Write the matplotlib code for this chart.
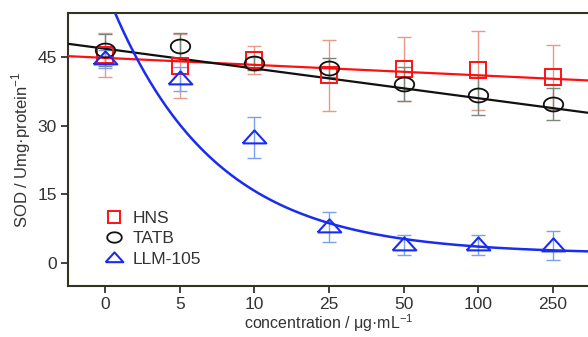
import numpy as np
import matplotlib.pyplot as plt
from matplotlib.path import Path

plt.rcParams['font.family'] = ['Liberation Sans', 'DejaVu Sans']

# categories (x axis is categorical)
conc = ['0', '5', '10', '25', '50', '100', '250']

# HNS
hns = [45.4, 43.0, 44.3, 41.0, 42.4, 42.1, 40.6]
hns_err = [4.8, 7.0, 3.0, 7.7, 7.0, 8.6, 7.0]
# TATB
tatb = [46.5, 47.3, 43.6, 42.7, 39.1, 36.7, 34.7]
tatb_err = [3.5, 3.0, 1.5, 2.0, 3.8, 4.4, 3.5]
# LLM-105
llm = [44.5, 40.2, 27.4, 7.8, 3.9, 4.0, 3.8]
llm_err = [2.0, 2.7, 4.5, 3.3, 2.2, 2.2, 3.1]

# fitted curves
hns_fit = (44.8, -0.76)      # intercept, slope (per category step)
tatb_fit = (46.8, -2.16)
llm_fit = (2.0, 57.8, 0.717)  # offset, amplitude, decay

x = np.arange(len(conc))

# ellipse marker for TATB
t = np.linspace(0, 2 * np.pi, 60)
ellipse = Path(np.column_stack([1.4 * np.cos(t), np.sin(t)]))
tri = Path([(-1.45, -0.6), (1.45, -0.6), (0, 1.0), (-1.45, -0.6)])

fig = plt.figure(figsize=(5.88, 3.37), dpi=100)
ax = fig.add_axes([68 / 588, 1 - 286 / 337, 522 / 588, 273 / 337])

xf = np.linspace(-0.5, 6.5, 300)
ax.plot(xf, hns_fit[0] + hns_fit[1] * xf, color='#ff1010', lw=1.6, zorder=3)
ax.plot(xf, tatb_fit[0] + tatb_fit[1] * xf, color='#111111', lw=1.6, zorder=3)
ax.plot(xf, llm_fit[0] + llm_fit[1] * np.exp(-llm_fit[2] * xf), color='#1a2cf0', lw=1.8, zorder=3)

ax.errorbar(x, hns, yerr=hns_err, fmt='none', ecolor='#e89a8a', elinewidth=1, capsize=5, zorder=2)
ax.errorbar(x, tatb, yerr=tatb_err, fmt='none', ecolor='#7a8a7a', elinewidth=1, capsize=5, zorder=2)
ax.errorbar(x, llm, yerr=llm_err, fmt='none', ecolor='#7aa0ee', elinewidth=1, capsize=5, zorder=2)

ax.plot(x, hns, ls='none', marker='s', ms=11, mfc='none', mec='#ff1010', mew=1.4, label='HNS', zorder=4)
ax.plot(x, tatb, ls='none', marker=ellipse, ms=14, mfc='none', mec='#111111', mew=1.3, label='TATB', zorder=4)
ax.plot(x, llm, ls='none', marker=tri, ms=17, mfc='none', mec='#1a2cf0', mew=1.5, label='LLM-105', zorder=4)

ax.set_xlim(-0.5, 6.5)
ax.set_ylim(-5, 54.6)
ax.set_xticks(x)
ax.set_xticklabels(conc)
ax.set_yticks([0, 15, 30, 45])
ax.tick_params(direction='out', length=5, width=1.3, labelsize=12.5, pad=3, color='#333333', labelcolor='#333333')

for side in ['left', 'bottom', 'top']:
    ax.spines[side].set_linewidth(1.5)
    ax.spines[side].set_color('#333322')
ax.spines['right'].set_visible(False)

ax.set_ylabel('SOD / Umg·protein$^{\\mathregular{-1}}$', fontsize=12, color='#333333', labelpad=3)
ax.set_xlabel('concentration / μg·mL$^{\\mathregular{-1}}$', fontsize=11.5, color='#333333', labelpad=0)

leg = ax.legend(loc='lower left', bbox_to_anchor=(0.05, 0.045), frameon=False, fontsize=12.5,
                handletextpad=0.3, labelspacing=0.3, handlelength=1.5, borderaxespad=0, markerscale=0.75)
for txt in leg.get_texts():
    txt.set_color('#333333')

fig.savefig('out.png', dpi=100)
